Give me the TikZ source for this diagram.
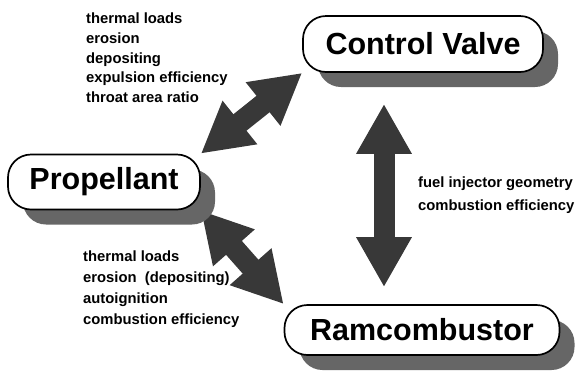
\documentclass[tikz,border=0pt]{standalone}
\usepackage{fontspec}
\setmainfont{Liberation Sans}
\usetikzlibrary{arrows.meta, positioning, shadows, backgrounds}

\begin{document}
\begin{tikzpicture}[
    x=1pt, y=-1pt,
    part/.style={rectangle, rounded corners=23pt, draw, line width=1.7pt, fill=white, inner sep=0pt,
        font=\fontsize{30.5}{34}\selectfont\bfseries,
        drop shadow={shadow xshift=15pt, shadow yshift=-15pt, fill=black!60, opacity=1}},
    note/.style={inner sep=0pt, align=left, anchor=north west},
    link/.style={line width=21pt, draw=black!78, {Triangle[length=50pt, width=52pt]}-{Triangle[length=50pt, width=52pt]}}
]
\useasboundingbox (0,0) rectangle (579,373);

% Parts
\node[part, minimum width=240pt, minimum height=56pt] (valve) at (423,44) {Control Valve};
\node[part, minimum width=192pt, minimum height=55pt] (prop) at (104,182) {Propellant};
\node[part, minimum width=275pt, minimum height=50pt] (ram) at (422,330) {Ramcombustor};

% Arrows
\begin{pgfonlayer}{background}
\draw[link] (prop.north east) -- (valve.south west);
\draw[link] (prop.south east) -- (ram.north west);
\draw[link, shorten <=31pt, shorten >=17pt] ([xshift=-39pt]valve.south) -- ([xshift=-38pt]ram.north);
\end{pgfonlayer}

% Notes
\node[note, font=\fontsize{14.8}{19.6}\selectfont\bfseries] (valvenotes) at (86,13)
    {thermal loads\\erosion\\depositing\\expulsion efficiency\\throat area ratio};
\node[note, font=\fontsize{14.8}{21}\selectfont\bfseries] (ramnotes) at (83,251)
    {thermal loads\\erosion \ (depositing)\\autoignition\\combustion efficiency};
\node[note, font=\fontsize{14.8}{23}\selectfont\bfseries] (fuelnotes) at (418,177)
    {fuel injector geometry\\combustion efficiency};

\end{tikzpicture}
\end{document}
